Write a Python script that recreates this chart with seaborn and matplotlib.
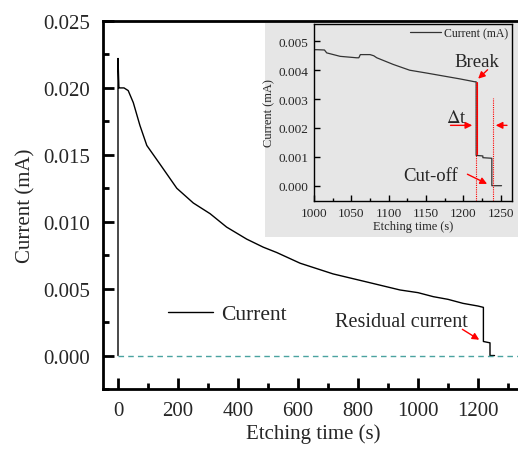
import matplotlib
matplotlib.use("Agg")
import matplotlib.pyplot as plt
import seaborn as sns
import pandas as pd
from matplotlib.patches import Rectangle
from matplotlib.ticker import MultipleLocator

# ---------------- data ----------------
main_time = [0, 0, 3, 6, 20, 34, 51, 73, 96, 140, 196, 251, 307, 362, 429, 484,
             529, 607, 717, 829, 940, 1000, 1051, 1100, 1150, 1200, 1218, 1218,
             1240, 1240, 1255]
main_current = [0, 0.0222, 0.0200, 0.0200, 0.0200, 0.0198, 0.0189, 0.0172, 0.0157,
                0.0143, 0.0125, 0.0114, 0.0106, 0.0096, 0.0087, 0.0081, 0.0077,
                0.0069, 0.0061, 0.0055, 0.0049, 0.0047, 0.0044, 0.0042, 0.0039,
                0.0037, 0.0036, 0.00105, 0.00095, 0.0, 0.0]

inset_time = [1000, 1004, 1014, 1017, 1035, 1057, 1060, 1062, 1075, 1080, 1084, 1106,
              1128, 1151, 1173, 1195, 1215, 1217, 1217, 1226, 1226, 1238, 1238, 1251]
inset_current = [0.00471, 0.00471, 0.00470, 0.00460, 0.00448, 0.00443, 0.00443,
                 0.00454, 0.00454, 0.00450, 0.00443, 0.00420, 0.00400, 0.00390,
                 0.00380, 0.00370, 0.00360, 0.00360, 0.00105, 0.00103, 0.00097,
                 0.00095, 0.0, 0.0]

main_xticks = [0, 200, 400, 600, 800, 1000, 1200]
main_yticks = [0.000, 0.005, 0.010, 0.015, 0.020, 0.025]
inset_xticks = [1000, 1050, 1100, 1150, 1200, 1250]
inset_yticks = [0.000, 0.001, 0.002, 0.003, 0.004, 0.005]

break_t = 1217
cutoff_t = 1238

# ---------------- style ----------------
sns.set_style("ticks")
plt.rcParams['font.family'] = ['Liberation Serif', 'DejaVu Serif']
plt.rcParams['mathtext.fontset'] = 'stix'

W, H = 518, 452
fig = plt.figure(figsize=(W / 100, H / 100), dpi=100)

# main axes
x0, x1 = -50, 1350
ax_w_px = 118 + 0.3 * x1 - 103
ax = fig.add_axes([103 / W, 1 - 390 / H, ax_w_px / W, (390 - 22) / H])
df_main = pd.DataFrame({"t": main_time, "I": main_current})
sns.lineplot(data=df_main, x="t", y="I", ax=ax, sort=False, estimator=None,
             color="black", lw=1.0, label="Current")
ax.axhline(0, xmin=(0 - x0) / (x1 - x0), color="#4aa3a0", lw=1.0, ls=(0, (4, 3)))
ax.set_xlim(x0, x1)
ax.set_ylim(-0.0025, 0.025)
ax.set_xticks(main_xticks)
ax.set_yticks(main_yticks)
ax.set_yticklabels([f"{v:.3f}" for v in main_yticks])
ax.xaxis.set_minor_locator(MultipleLocator(100))
ax.yaxis.set_minor_locator(MultipleLocator(0.0025))
ax.tick_params(which="both", direction="in", labelsize=15, width=2, color="black")
ax.tick_params(which="major", length=8, pad=9)
ax.tick_params(which="minor", length=4.5)
ax.tick_params(axis="x", pad=9)
for s in ax.spines.values():
    s.set_linewidth(2)
    s.set_color("black")
ax.set_xlabel("Etching time (s)", fontsize=15, labelpad=2)
ax.set_ylabel("Current (mA)", fontsize=15, labelpad=6)
ax.legend(loc="center left", bbox_to_anchor=((168 - 103) / ax_w_px, (390 - 315) / 368),
          frameon=False, fontsize=15.5, handlelength=2.1, handletextpad=0.35,
          borderaxespad=0, borderpad=0)
ax.annotate("", xy=(1212, 0.00107), xytext=(1140, 0.00207),
            arrowprops=dict(arrowstyle="-|>", color="red", lw=1.0, mutation_scale=10))
ax.text(723, 0.00257, "Residual current", fontsize=14.5, va="center", ha="left")

# gray background panel behind inset
fig.patches.append(Rectangle((265 / W, 1 - 238 / H), (W - 265) / W, (238 - 24) / H,
                             transform=fig.transFigure, facecolor="#e6e6e6",
                             edgecolor="none", zorder=2))

# inset axes
ix0, ix1 = 1000, 1265
iax = fig.add_axes([314 / W, 1 - 202 / H, (512 - 314) / W, (202 - 25) / H], zorder=3)
iax.set_facecolor("#e6e6e6")
df_in = pd.DataFrame({"t": inset_time, "I": inset_current})
sns.lineplot(data=df_in, x="t", y="I", ax=iax, sort=False, estimator=None,
             color="#333333", lw=0.9, label="Current (mA)")
iax.set_xlim(ix0, ix1)
iax.set_ylim(-0.00053, 0.0056)
iax.set_xticks(inset_xticks)
iax.set_yticks(inset_yticks)
iax.set_yticklabels([f"{v:.3f}" for v in inset_yticks])
iax.xaxis.set_minor_locator(MultipleLocator(25))
iax.tick_params(which="both", direction="in", labelsize=9.5, width=1, color="black")
iax.tick_params(which="major", length=4, pad=4)
iax.tick_params(which="minor", length=2.5)
for s in iax.spines.values():
    s.set_linewidth(1.0)
    s.set_color("black")
iax.set_xlabel("Etching time (s)", fontsize=9, labelpad=1)
iax.set_ylabel("Current (mA)", fontsize=9, labelpad=2)
iax.legend(loc="upper right", frameon=False, fontsize=8.5, handlelength=2.6,
           handletextpad=0.3, borderaxespad=0.1, borderpad=0.2)

# red guides
iax.plot([break_t, break_t], [-0.00053, 0.0036], color="red", lw=0.8, ls=(0, (1, 1)))
iax.plot([break_t + 0.6, break_t + 0.6], [0.0011, 0.0036], color="red", lw=0.8)
iax.plot([cutoff_t + 1, cutoff_t + 1], [-0.00053, 0.00305], color="red", lw=0.8, ls=(0, (1, 1)))

arrow_kw = dict(arrowstyle="-|>", color="red", lw=1.0, mutation_scale=10)
iax.annotate("", xy=(1217, 0.00364), xytext=(1235, 0.00408), arrowprops=arrow_kw)
iax.text(1218, 0.0043, "Break", fontsize=13.5, ha="center", va="center")
iax.annotate("", xy=(1215.5, 0.00209), xytext=(1179, 0.00209), arrowprops=arrow_kw)
iax.annotate("", xy=(1239.5, 0.00209), xytext=(1262, 0.00209), arrowprops=arrow_kw)
iax.text(1191, 0.00237, r"$\Delta$t", fontsize=13.5, ha="center", va="center")
iax.annotate("", xy=(1235, 0.00002), xytext=(1202, 0.00044), arrowprops=arrow_kw)
iax.text(1156.5, 0.00035, "Cut-off", fontsize=13.5, ha="center", va="center")

fig.savefig("out.png", dpi=100)
